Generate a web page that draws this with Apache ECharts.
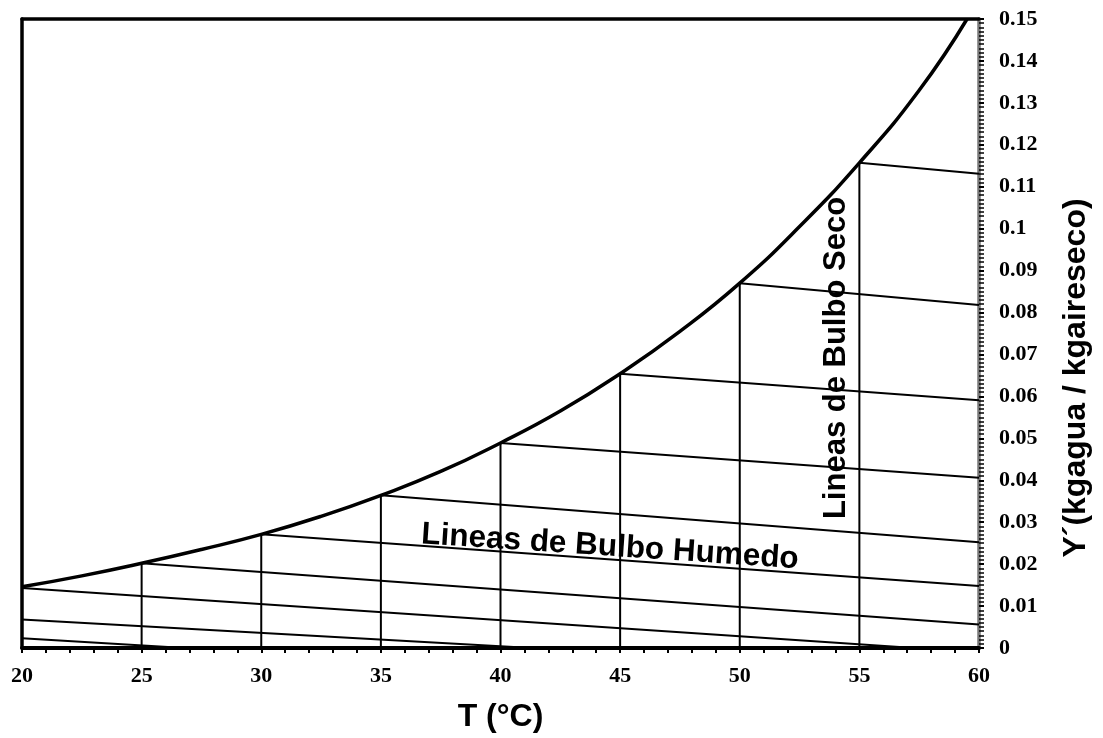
<!DOCTYPE html>
<html>
<head>
<meta charset="utf-8">
<script src="https://cdn.jsdelivr.net/npm/echarts@6/dist/echarts.min.js"></script>
<style>
html,body{margin:0;padding:0;background:#fff;overflow:hidden;}
#c{width:100vw;height:100vh;}
</style>
</head>
<body>
<div id="c"></div>
<script>
// Saturation curve (T in °C, Y in kg water / kg dry air)
const satT = [20, 22.5, 25, 27.5, 30, 32.5, 35, 37.5, 40, 42.5, 45, 47.5, 50, 52.5, 55, 57.5, 59.5];
const satY = [0.0146, 0.0172, 0.0202, 0.0235, 0.0271, 0.0314, 0.0364, 0.0421, 0.0489, 0.0565, 0.0654, 0.0755, 0.0870, 0.1005, 0.1157, 0.1330, 0.1500];

// Wet-bulb (adiabatic saturation) lines: start and end points
const wetStartT = [20, 20, 20, 25, 30, 35, 40, 45, 50, 55];
const wetStartY = [0.0023, 0.0068, 0.0143, 0.0202, 0.0271, 0.0364, 0.0489, 0.0654, 0.0870, 0.1157];
const wetEndT   = [26.8, 41.3, 57.3, 60, 60, 60, 60, 60, 60, 60];
const wetEndY   = [0, 0, 0, 0.0056, 0.0148, 0.0252, 0.0406, 0.0591, 0.0818, 0.1131];

// Dry-bulb vertical lines
const dryT    = [25, 30, 35, 40, 45, 50, 55];
const dryTopY = [0.0202, 0.0271, 0.0364, 0.0489, 0.0654, 0.0870, 0.1157];

const xTitle = 'T (°C)';
const yTitle = 'Y´(kgagua / kgaireseco)';
const wetLabel = 'Lineas de Bulbo Humedo';
const dryLabel = 'Lineas de Bulbo Seco';

const chart = echarts.init(document.getElementById('c'), null, {renderer: 'canvas'});

const series = [];
for (let i = 0; i < dryT.length; i++) {
  series.push({
    type: 'line', symbol: 'none', silent: true, z: 2,
    lineStyle: {color: '#000', width: 2},
    data: [[dryT[i], 0], [dryT[i], dryTopY[i]]]
  });
}
for (let i = 0; i < wetStartT.length; i++) {
  series.push({
    type: 'line', symbol: 'none', silent: true, z: 2,
    lineStyle: {color: '#000', width: 2},
    data: [[wetStartT[i], wetStartY[i]], [wetEndT[i], wetEndY[i]]]
  });
}
series.push({
  type: 'line', symbol: 'none', silent: true, z: 3,
  smooth: 0.5,
  lineStyle: {color: '#000', width: 3.5},
  data: satT.map((t, i) => [t, satY[i]])
});

const serif = 'Liberation Serif';
const sans = 'Liberation Sans';

chart.setOption({
  animation: false,
  backgroundColor: '#fff',
  grid: {left: 22, right: 124, top: 19, bottom: 86, containLabel: false},
  xAxis: [{
    type: 'value', position: 'bottom', min: 20, max: 60, interval: 5,
    axisLine: {show: true, onZero: false, lineStyle: {color: '#000', width: 4}},
    axisTick: {show: true, length: 5, lineStyle: {color: '#000', width: 2}},
    minorTick: {show: true, splitNumber: 5, length: 5, lineStyle: {color: '#000', width: 2}},
    splitLine: {show: false},
    axisLabel: {color: '#000', fontFamily: serif, fontWeight: 'bold', fontSize: 22, margin: 17},
    name: xTitle, nameLocation: 'middle', nameGap: 53,
    nameTextStyle: {color: '#000', fontFamily: sans, fontWeight: 'bold', fontSize: 32}
  }, {
    type: 'value', position: 'top', min: 20, max: 60,
    axisLine: {show: true, onZero: false, lineStyle: {color: '#000', width: 3.5}},
    axisTick: {show: false}, axisLabel: {show: false}, splitLine: {show: false}
  }],
  yAxis: [{
    type: 'value', position: 'right', min: 0, max: 0.15, interval: 0.01,
    axisLine: {show: true, onZero: false, lineStyle: {color: '#777', width: 3.5}},
    axisTick: {show: true, length: 5, lineStyle: {color: '#000', width: 2}},
    minorTick: {show: true, splitNumber: 10, length: 5, lineStyle: {color: '#000', width: 1.5}},
    splitLine: {show: false},
    axisLabel: {color: '#000', fontFamily: serif, fontWeight: 'bold', fontSize: 22, margin: 20}
  }, {
    type: 'value', position: 'left', min: 0, max: 0.15,
    axisLine: {show: true, onZero: false, lineStyle: {color: '#000', width: 3.5}},
    axisTick: {show: false}, axisLabel: {show: false}, splitLine: {show: false}
  }],
  graphic: [{
    type: 'text', x: 610, y: 547, rotation: -3.8 * Math.PI / 180, z: 10,
    style: {text: wetLabel, fill: '#000', font: 'bold 31.5px "Liberation Sans"', textAlign: 'center', textVerticalAlign: 'middle'}
  }, {
    type: 'text', x: 836, y: 358, rotation: Math.PI / 2, z: 10,
    style: {text: dryLabel, fill: '#000', font: 'bold 31px "Liberation Sans"', textAlign: 'center', textVerticalAlign: 'middle'}
  }, {
    type: 'text', x: 1076, y: 378, rotation: Math.PI / 2, z: 10,
    style: {text: yTitle, fill: '#000', font: 'bold 32px "Liberation Sans"', textAlign: 'center', textVerticalAlign: 'middle'}
  }],
  series: series
});
</script>
</body>
</html>
